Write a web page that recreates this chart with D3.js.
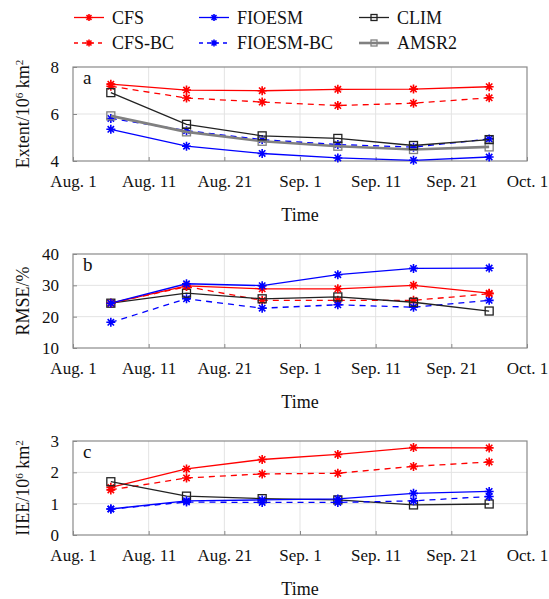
<!DOCTYPE html>
<html>
<head>
<meta charset="utf-8">
<script src="https://cdn.jsdelivr.net/npm/d3@7"></script>
<style>
  html, body { margin: 0; padding: 0; background: #fff; }
  svg, svg text { font-family: "Liberation Serif", "Times New Roman", serif; }
  svg { display: block; }
</style>
</head>
<body>
<svg id="chart" width="549" height="599"></svg>
<script>
// ---------- data ----------
const days = [5, 15, 25, 35, 45, 55];
const xTickValues = [0, 10, 20, 30, 40, 50, 60];
const xTickLabels = ["Aug. 1", "Aug. 11", "Aug. 21", "Sep. 1", "Sep. 11", "Sep. 21", "Oct. 1"];

const seriesNames = ["CFS", "CFS-BC", "FIOESM", "FIOESM-BC", "CLIM", "AMSR2"];

const extentCFS      = [7.27, 7.02, 6.99, 7.05, 7.06, 7.16];
const extentCFSBC    = [7.18, 6.68, 6.51, 6.36, 6.46, 6.69];
const extentFIOESM   = [5.35, 4.63, 4.32, 4.13, 4.03, 4.17];
const extentFIOESMBC = [5.81, 5.29, 4.91, 4.70, 4.59, 4.94];
const extentCLIM     = [6.91, 5.56, 5.07, 4.96, 4.66, 4.91];
const extentAMSR2    = [5.92, 5.24, 4.84, 4.63, 4.49, 4.60];

const rmseCFS      = [24.3, 29.8, 28.9, 28.9, 30.0, 27.5];
const rmseCFSBC    = [24.3, 29.6, 25.2, 25.2, 25.2, 27.3];
const rmseFIOESM   = [24.3, 30.5, 29.9, 33.4, 35.4, 35.5];
const rmseFIOESMBC = [18.2, 25.7, 22.7, 23.8, 23.0, 25.2];
const rmseCLIM     = [24.3, 27.5, 25.7, 26.3, 24.6, 21.8];

const iieeCFS      = [1.52, 2.11, 2.41, 2.57, 2.79, 2.78];
const iieeCFSBC    = [1.44, 1.82, 1.95, 1.97, 2.19, 2.33];
const iieeFIOESM   = [0.83, 1.09, 1.12, 1.15, 1.33, 1.39];
const iieeFIOESMBC = [0.83, 1.05, 1.04, 1.04, 1.09, 1.23];
const iieeCLIM     = [1.70, 1.24, 1.16, 1.12, 0.96, 0.99];

const extentTicks = [4, 6, 8];
const rmseTicks = [10, 20, 30, 40];
const iieeTicks = [0, 1, 2, 3];

// ---------- styles ----------
const FONT = "Liberation Serif";
const styles = {
  "CFS":       { color: "#ff0000", dash: null,  width: 1.3, marker: "star" },
  "CFS-BC":    { color: "#ff0000", dash: "6,5", width: 1.3, marker: "star" },
  "FIOESM":    { color: "#0000ff", dash: null,  width: 1.3, marker: "star" },
  "FIOESM-BC": { color: "#0000ff", dash: "6,5", width: 1.3, marker: "star" },
  "CLIM":      { color: "#222222", dash: null,  width: 1.3, marker: "square" },
  "AMSR2":     { color: "#808080", dash: null,  width: 2.6, marker: "square" }
};

const panels = [
  { letter: "a", top: 67, domain: [4, 8], ticks: extentTicks,
    ylabel: [["Extent/10", 0], ["6", 1], [" km", 0], ["2", 1]],
    series: { "CFS": extentCFS, "CFS-BC": extentCFSBC, "FIOESM": extentFIOESM,
              "FIOESM-BC": extentFIOESMBC, "AMSR2": extentAMSR2, "CLIM": extentCLIM } },
  { letter: "b", top: 254, domain: [10, 40], ticks: rmseTicks,
    ylabel: [["RMSE/%", 0]],
    series: { "CFS-BC": rmseCFSBC, "FIOESM-BC": rmseFIOESMBC, "CLIM": rmseCLIM,
              "CFS": rmseCFS, "FIOESM": rmseFIOESM } },
  { letter: "c", top: 441, domain: [0, 3], ticks: iieeTicks,
    ylabel: [["IIEE/10", 0], ["6", 1], [" km", 0], ["2", 1]],
    series: { "CFS": iieeCFS, "CFS-BC": iieeCFSBC, "CLIM": iieeCLIM,
              "FIOESM-BC": iieeFIOESMBC, "FIOESM": iieeFIOESM } }
];

const svg = d3.select("#chart");
svg.append("rect").attr("width", 549).attr("height", 599).attr("fill", "#fff");

const left = 73, right = 527, ph = 94;
const x = d3.scaleLinear().domain([0, 60]).range([left, right]);

function drawMarker(g, type, cx, cy, color, r) {
  if (type === "star") {
    const p = d3.path();
    for (let k = 0; k < 4; k++) {
      const a = k * Math.PI / 4;
      p.moveTo(cx - r * Math.cos(a), cy - r * Math.sin(a));
      p.lineTo(cx + r * Math.cos(a), cy + r * Math.sin(a));
    }
    g.append("path").attr("d", p.toString()).attr("stroke", color)
      .attr("stroke-width", 1.6).attr("fill", "none");
  } else {
    g.append("rect").attr("x", cx - r).attr("y", cy - r)
      .attr("width", 2 * r).attr("height", 2 * r)
      .attr("fill", "none").attr("stroke", color).attr("stroke-width", 1.3);
  }
}

panels.forEach(pn => {
  const y = d3.scaleLinear().domain(pn.domain).range([pn.top + ph, pn.top]);
  const g = svg.append("g");

  // grid
  g.append("g").selectAll("line").data(xTickValues.slice(1, -1)).join("line")
    .attr("x1", d => x(d)).attr("x2", d => x(d))
    .attr("y1", pn.top).attr("y2", pn.top + ph)
    .attr("stroke", "#e3e3e3").attr("stroke-width", 1);
  g.append("g").selectAll("line").data(pn.ticks.slice(1, -1)).join("line")
    .attr("x1", left).attr("x2", right)
    .attr("y1", d => y(d)).attr("y2", d => y(d))
    .attr("stroke", "#e3e3e3").attr("stroke-width", 1);

  // axes
  const xAxis = d3.axisBottom(x).tickValues(xTickValues)
    .tickFormat((d, i) => xTickLabels[i]).tickSizeInner(-4).tickSizeOuter(0).tickPadding(14);
  const gx = g.append("g").attr("transform", `translate(0,${pn.top + ph})`).call(xAxis);
  const yAxis = d3.axisLeft(y).tickValues(pn.ticks).tickFormat(d3.format("d"))
    .tickSizeInner(-4).tickSizeOuter(0).tickPadding(14);
  const gy = g.append("g").attr("transform", `translate(${left},0)`).call(yAxis);
  [gx, gy].forEach(a => {
    a.attr("font-family", FONT).attr("font-size", 17);
    a.select(".domain").remove();
    a.selectAll("line").attr("stroke", "#888");
    a.selectAll("text").style("font-family", FONT).style("font-size", "17px").attr("fill", "#111");
  });

  // box
  g.append("rect").attr("x", left).attr("y", pn.top).attr("width", right - left).attr("height", ph)
    .attr("fill", "none").attr("stroke", "#8a8a8a").attr("stroke-width", 1.2);

  // series
  Object.keys(pn.series).forEach(name => {
    const st = styles[name];
    const vals = pn.series[name];
    const pts = days.map((d, i) => [x(d), y(vals[i])]);
    g.append("path").attr("d", d3.line()(pts)).attr("fill", "none")
      .attr("stroke", st.color).attr("stroke-width", st.width)
      .attr("stroke-dasharray", st.dash);
    pts.forEach(p => drawMarker(g, st.marker, p[0], p[1], st.color, st.marker === "star" ? 4.5 : 4));
  });

  // panel letter
  g.append("text").attr("x", left + 10).attr("y", pn.top + 17).text(pn.letter)
    .attr("font-size", 19).attr("fill", "#111");

  // y label
  const yl = g.append("text")
    .attr("transform", `translate(29,${pn.top + ph / 2}) rotate(-90)`)
    .attr("text-anchor", "middle").attr("font-size", 18).attr("fill", "#111");
  pn.ylabel.forEach(([t, sup]) => {
    const ts = yl.append("tspan").text(t);
    if (sup) ts.attr("font-size", 11).attr("baseline-shift", "super");
  });

  // x label
  g.append("text").attr("x", (left + right) / 2).attr("y", pn.top + ph + 60)
    .attr("text-anchor", "middle").attr("font-size", 18).attr("fill", "#111").text("Time");
});

// legend
const legendItems = [
  { name: "CFS", col: 0, row: 0 }, { name: "FIOESM", col: 1, row: 0 }, { name: "CLIM", col: 2, row: 0 },
  { name: "CFS-BC", col: 0, row: 1 }, { name: "FIOESM-BC", col: 1, row: 1 }, { name: "AMSR2", col: 2, row: 1 }
];
const colX = [74, 199, 359];
const rowY = [17.5, 43];
const lg = svg.append("g");
legendItems.forEach(it => {
  const st = styles[it.name];
  const x0 = colX[it.col], yy = rowY[it.row];
  lg.append("line").attr("x1", x0).attr("x2", x0 + 30).attr("y1", yy).attr("y2", yy)
    .attr("stroke", st.color).attr("stroke-width", st.width)
    .attr("stroke-dasharray", st.dash ? "4,4" : null);
  drawMarker(lg, st.marker, x0 + 15, yy, st.color, st.marker === "star" ? 3.5 : 3);
  lg.append("text").attr("x", x0 + 38).attr("y", yy + 6).text(it.name)
    .attr("font-size", 18).attr("fill", "#111");
});
</script>
</body>
</html>
